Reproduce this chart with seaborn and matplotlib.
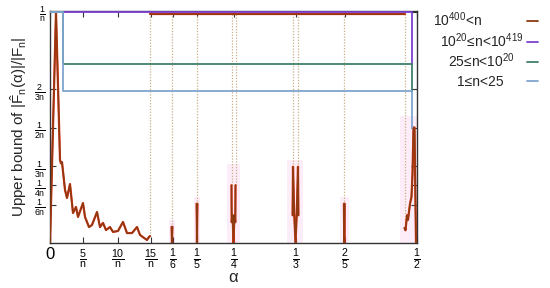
import matplotlib
matplotlib.use('Agg')
import matplotlib.pyplot as plt
from matplotlib.lines import Line2D
import seaborn as sns

# x axis is piecewise: 0..15/n linear, then the rationals spaced as in the paper figure
# so every x below is an "axis position", not alpha itself
tick_pos = [0, 33, 68, 101, 123, 147, 183.5, 245.5, 294.5, 367]
tick_labels = ['0', r'$\frac{5}{n}$', r'$\frac{10}{n}$', r'$\frac{15}{n}$', r'$\frac{1}{6}$',
               r'$\frac{1}{5}$', r'$\frac{1}{4}$', r'$\frac{1}{3}$', r'$\frac{2}{5}$', r'$\frac{1}{2}$']
ytick_vals = [1, 2/3, 1/2, 1/3, 1/4, 1/6]
ytick_labels = [r'$\frac{1}{n}$', r'$\frac{2}{3n}$', r'$\frac{1}{2n}$',
                r'$\frac{1}{3n}$', r'$\frac{1}{4n}$', r'$\frac{1}{6n}$']

# 10^400<n : small alpha part
left_x = [0, 6, 10, 11, 12, 15, 17, 20, 23, 26, 28, 33, 35, 39, 42, 47, 50, 53, 56, 60,
          63, 68, 73, 77, 82, 87, 90, 94, 97, 99, 100]
left_y = [0, 1.0, 0.36, 0.345, 0.35, 0.23, 0.195, 0.255, 0.13, 0.156, 0.113, 0.173, 0.113,
          0.069, 0.078, 0.134, 0.069, 0.087, 0.056, 0.069, 0.048, 0.052, 0.091, 0.043,
          0.043, 0.069, 0.035, 0.022, 0.013, 0.026, 0.03]
# spikes around the rationals
s16_x = [121.6, 122, 122.4]
s16_y = [0.07, 0, 0.07]
s15_x = [146.6, 147, 147.4]
s15_y = [0.17, 0, 0.17]
s14_x = [181.5, 181.7, 182.6, 183.5, 184.4, 185.3, 185.5]
s14_y = [0.25, 0.09, 0.12, 0, 0.12, 0.09, 0.25]
s13_x = [242.6, 243, 244.2, 245.5, 246.8, 248, 248.4]
s13_y = [0.12, 0.33, 0.13, 0, 0.13, 0.33, 0.12]
s25_x = [293.9, 294.3, 294.7]
s25_y = [0.17, 0, 0.17]
s12_x = [354.5, 355.5, 357, 358, 360, 361.5, 362.5, 363.5, 364.5, 366]
s12_y = [0.065, 0.055, 0.12, 0.1, 0.17, 0.2, 0.3, 0.5, 0.5, 0]
# trivial bound 1/n between the spikes, joined by dotted drops
top_x = [100, 354.5]
top_y = [0.99, 0.99]
drop_x = [100, 122, 147, 181.5, 185.5, 243, 248, 294.3, 354.5]
drop_y = [0.03, 0.07, 0.17, 0.25, 0.25, 0.33, 0.33, 0.17, 0.065]
# faint shaded bands behind the spikes
band_lo = [119, 144, 177, 237, 290, 350]
band_hi = [125, 150, 190, 253, 299, 367]
band_top = [0.1, 0.2, 0.34, 0.36, 0.2, 0.55]

# the other three ranges of n
purple_x = [0, 362, 362]
purple_y = [1, 1, 0.775]
teal_x = [0, 13, 13, 362, 362]
teal_y = [1, 1, 0.775, 0.775, 0.658]
blue_x = [0, 13, 13, 362, 362]
blue_y = [1, 1, 0.658, 0.658, 0.5]

labels = [r'$10^{400}$<n', r'$10^{20}$≤n<$10^{419}$', r'25≤n<$10^{20}$', '1≤n<25']
brown, red, purple, teal, lblue = '#8e3a10', '#e0301a', '#7d3fd2', '#3f7f6c', '#7fa5cf'
colors = [brown, purple, teal, lblue]

sns.set_style('ticks')
plt.rcParams['font.family'] = ['Liberation Sans', 'DejaVu Sans']
plt.rcParams['mathtext.fontset'] = 'custom'
plt.rcParams['mathtext.rm'] = 'Liberation Sans'
plt.rcParams['mathtext.it'] = 'Liberation Sans'
plt.rcParams['mathtext.bf'] = 'Liberation Sans:bold'

fig = plt.figure(figsize=(5.5, 2.88), dpi=100)
ax = fig.add_axes([50/550, 45/288, 367/550, 232.5/288])

for lo, hi, t in zip(band_lo, band_hi, band_top):
    ax.fill_between([lo, hi], 0, t, color='#fdedf8', lw=0, zorder=0)

ax.vlines(drop_x, drop_y, 0.99, colors='#c9ae88', linestyles=(0, (1, 1.3)), lw=0.9, zorder=1)

curves = [(left_x, left_y), (s16_x, s16_y), (s15_x, s15_y), (s14_x, s14_y),
          (s13_x, s13_y), (s25_x, s25_y), (s12_x, s12_y), (top_x, top_y)]
for cx, cy in curves:
    sns.lineplot(x=cx, y=cy, sort=False, estimator=None, color=red, lw=1.6, ax=ax, zorder=2)
for cx, cy in curves:
    sns.lineplot(x=cx, y=cy, sort=False, estimator=None, color=brown, lw=1.1, ax=ax, zorder=3)

for (lx, ly), c in zip([(purple_x, purple_y), (teal_x, teal_y), (blue_x, blue_y)], colors[1:]):
    sns.lineplot(x=lx, y=ly, sort=False, estimator=None, color=c, lw=1.3, ax=ax, zorder=4)

ax.set_xlim(0, 367)
ax.set_ylim(0, 232.5/231)
ax.set_xticks(tick_pos)
ax.set_xticklabels(tick_labels, fontsize=11)
ax.get_xticklabels()[0].set_fontsize(12)
ax.set_yticks(ytick_vals)
ax.set_yticklabels(ytick_labels, fontsize=9)
ax.tick_params(direction='in', length=4, width=0.8, top=True, right=True, pad=3, colors='#333333')
ax.tick_params(labelcolor='black')
for sp in ax.spines.values():
    sp.set_visible(True)
    sp.set_color('#333333')
    sp.set_linewidth(1)
ax.set_xlabel('α', fontsize=12)
ax.xaxis.set_label_coords(0.5, -0.118)
ax.set_ylabel(r'Upper bound of $|\hat{F}_n(\alpha)|/|F_n|$', fontsize=11, labelpad=4)

# gnuplot-style key outside on the right, text then sample
key_x = [458, 482, 481, 480]
key_y = [21, 42, 62, 81]
for lab, c, kx, ky in zip(labels, colors, key_x, key_y):
    fig.text(kx/550, 1 - (ky + 5)/288, lab, ha='center', va='baseline', fontsize=10)
    fig.add_artist(Line2D([527/550, 538/550], [1 - ky/288, 1 - ky/288], color=c, lw=1.3))

fig.savefig('out.png', dpi=100)
